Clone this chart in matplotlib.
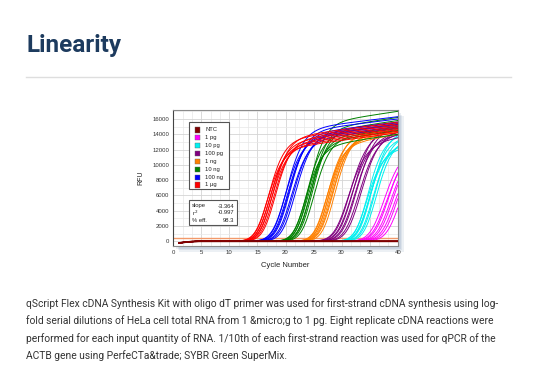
import numpy as np
import matplotlib
matplotlib.use("Agg")
import matplotlib.pyplot as plt
from matplotlib.patches import Rectangle
from matplotlib.ticker import MultipleLocator

# ---------------- data ----------------
groups = ["NTC", "1 pg", "10 pg", "100 pg", "1 ng", "10 ng", "100 ng", "1 µg"]
colors = ["#7f0000", "#ff00ff", "#00f0f0", "#800080", "#ff8000", "#008000", "#0000ff", "#ff0000"]

# midpoint cycle of each replicate curve (8 replicates per input)
ct_1pg   = [37.8, 38.2, 38.6, 39.0, 39.4, 39.8, 40.3, 40.8]
ct_10pg  = [34.7, 34.9, 35.1, 35.3, 35.5, 35.8, 36.1, 36.4]
ct_100pg = [31.4, 31.7, 32.0, 32.3, 32.6, 32.9, 33.3, 33.7]
ct_1ng   = [27.5, 27.7, 27.9, 28.0, 28.2, 28.4, 28.6, 29.0]
ct_10ng  = [23.8, 24.0, 24.2, 24.4, 24.6, 24.8, 25.0, 25.3]
ct_100ng = [20.2, 20.4, 20.6, 20.8, 21.0, 21.3, 21.6, 22.0]
ct_1ug   = [17.0, 17.2, 17.4, 17.5, 17.7, 17.9, 18.1, 18.4]

# RFU plateau reached at cycle 40
pl_1pg   = [12000, 11500, 12500, 11800, 12200, 11600, 12400, 12000]
pl_10pg  = [12200, 14000, 12600, 13600, 14400, 13000, 13800, 13300]
pl_100pg = [13600, 14800, 14000, 15400, 14400, 15200, 14200, 14600]
pl_1ng   = [14000, 14900, 14300, 15200, 14600, 14400, 14800, 15000]
pl_10ng  = [14000, 15400, 14500, 17000, 15000, 16200, 15800, 14800]
pl_100ng = [15000, 16300, 15300, 15600, 16000, 14800, 15200, 15500]
pl_1ug   = [14200, 15400, 14600, 15000, 14400, 15600, 14800, 15200]

# curve width (cycles) and plateau drift (RFU per cycle) for each input
steep = [1.7, 1.5, 1.7, 1.5, 1.5, 1.6, 1.5]
drift = [100, 110, 120, 130, 110, 90, 100]

ntc_level = [0, 30, -30, 50, -50, 20, -20, 40]
baseline_dip = [-220, -120, -50, -10]   # cycles 1..4
threshold = 400

ct_sets = [ct_1pg, ct_10pg, ct_100pg, ct_1ng, ct_10ng, ct_100ng, ct_1ug]
pl_sets = [pl_1pg, pl_10pg, pl_100pg, pl_1ng, pl_10ng, pl_100ng, pl_1ug]

stats_labels = ["slope", "r$^2$", "% eff."]
stats_values = ["-3.364", "-0.997", "98.3"]

# ---------------- figure ----------------
W, H = 538, 383
fig = plt.figure(figsize=(W / 100, H / 100), dpi=100)
fig.patch.set_facecolor("white")

def fx(x):
    return x / W

def fy(y):
    return 1 - y / H

plt.rcParams["font.family"] = ["Liberation Sans", "DejaVu Sans"]

# title and rule
fig.text(fx(26), fy(52), "Linearity", fontsize=17.5, fontweight="bold",
         color="#1d3b5e", family=["Roboto", "DejaVu Sans"], va="baseline")
fig.add_artist(plt.Line2D([fx(26), fx(511)], [fy(77), fy(77)], color="#dedede", lw=1))

# axes
L, R, T, B = 173.3, 397.7, 110, 245.7
# shadow
for i, a in enumerate([0.10, 0.10, 0.12, 0.15]):
    off = 6 - i * 1.5
    fig.add_artist(Rectangle((fx(L + off), fy(B + off)), (R - L) / W, (B - T) / H,
                             transform=fig.transFigure, facecolor="#4a6c9a",
                             edgecolor="none", alpha=a, zorder=0))
ax = fig.add_axes([fx(L), fy(B), (R - L) / W, (B - T) / H])
ax.set_facecolor("white")
ax.set_zorder(1)

cyc = np.linspace(1, 40, 391)
dip = np.interp(cyc, [1, 2, 3, 4], baseline_dip, right=0)

ax.axhline(threshold, color="#f39a6a", lw=1.0, zorder=2)

for gi in range(len(ct_sets)):
    col = colors[gi + 1]
    k = steep[gi]
    for ct, pl in zip(ct_sets[gi], pl_sets[gi]):
        plateau = pl - drift[gi] * (40 - cyc)
        c0 = ct - 0.8814 * k
        y = plateau / (1 + np.exp(-(cyc - c0) / k)) ** 2 + dip
        ax.plot(cyc, y, color=col, lw=0.7, zorder=3)
for lv in ntc_level:
    ax.plot(cyc, lv + dip, color=colors[0], lw=0.7, zorder=3)

ax.set_xlim(0, 40)
ax.set_ylim(-575, 17175)
ax.xaxis.set_major_locator(MultipleLocator(5))
ax.xaxis.set_minor_locator(MultipleLocator(5 / 3))
ax.yaxis.set_major_locator(MultipleLocator(2000))
ax.yaxis.set_minor_locator(MultipleLocator(1000))
ax.grid(which="major", color="#d4d4d4", lw=0.6)
ax.grid(which="minor", color="#e8e8e8", lw=0.5)
ax.set_axisbelow(True)
ax.tick_params(which="both", length=0, labelsize=4.3, colors="#333333", pad=3)
for s in ax.spines.values():
    s.set_color("#8a8a8a")
    s.set_linewidth(0.8)
ax.spines["left"].set_color("#444444")
ax.set_xlabel("Cycle Number", fontsize=5.5, color="#222222", labelpad=5)
ax.set_ylabel("RFU", fontsize=5, color="#222222", labelpad=6)

# legend box (pixel coordinates)
fig.add_artist(Rectangle((fx(189), fy(189)), 40 / W, 67 / H, transform=fig.transFigure,
                         facecolor="white", edgecolor="#555555", lw=0.8, zorder=5))
for i, (g, c) in enumerate(zip(groups, colors)):
    yy = 130 + i * 7.85
    fig.add_artist(Rectangle((fx(194.5), fy(yy + 2.6)), 5 / W, 5.2 / H, transform=fig.transFigure,
                             facecolor=c, edgecolor="#666666", lw=0.3, zorder=6))
    fig.text(fx(205), fy(yy), g, fontsize=4.2, color="#222222", va="center", zorder=6)

# stats box
fig.add_artist(Rectangle((fx(189), fy(225)), 48 / W, 25 / H, transform=fig.transFigure,
                         facecolor="white", edgecolor="#555555", lw=0.8, zorder=5))
for i, (lab, val) in enumerate(zip(stats_labels, stats_values)):
    yy = 206 + i * 7
    fig.text(fx(192), fy(yy), lab, fontsize=4.2, color="#222222", va="center", zorder=6)
    fig.text(fx(234), fy(yy), val, fontsize=4.2, color="#222222", va="center", ha="right", zorder=6)

# caption
caption = [
    "qScript Flex cDNA Synthesis Kit with oligo dT primer was used for first-strand cDNA synthesis using log-",
    "fold serial dilutions of HeLa cell total RNA from 1 &micro;g to 1 pg. Eight replicate cDNA reactions were",
    "performed for each input quantity of RNA. 1/10th of each first-strand reaction was used for qPCR of the",
    "ACTB gene using PerfeCTa&trade; SYBR Green SuperMix.",
]
for i, line in enumerate(caption):
    fig.text(fx(26), fy(303.5 + i * 17.5), line, fontsize=7.4, color="#333333",
             family=["Roboto", "DejaVu Sans"], va="center")

fig.savefig("out.png", dpi=100)
